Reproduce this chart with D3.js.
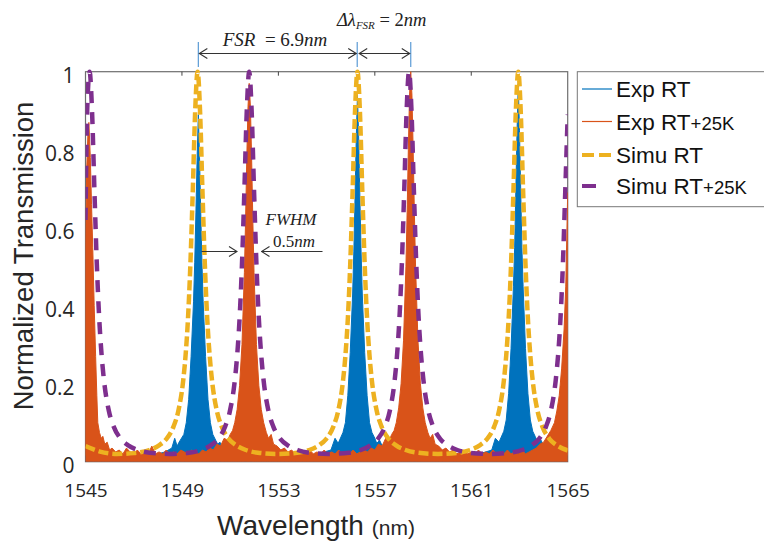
<!DOCTYPE html>
<html>
<head>
<meta charset="utf-8">
<script src="https://cdn.jsdelivr.net/npm/d3@7"></script>
<style>
  body { margin: 0; background: #fff; }
  svg { display: block; }
</style>
</head>
<body>
<div class="chart"></div>
<script>
// tick values
var xTicks = [1545, 1549, 1553, 1557, 1561, 1565];
var yTicks = [0, 0.2, 0.4, 0.6, 0.8, 1];

var seriesNames = ["Exp RT", "Exp RT+25K", "Simu RT", "Simu RT+25K"];

// measured spectrum, room temperature  [wavelength nm, transmission]
var expRT = [
  [1545.00,0.015],[1545.60,0.020],[1546.20,0.015],[1546.80,0.020],[1547.40,0.015],[1548.00,0.020],[1548.30,0.025],
  [1548.58,0.035],[1548.70,0.060],[1548.80,0.040],[1548.88,0.050],[1549.08,0.070],[1549.18,0.100],[1549.28,0.160],
  [1549.38,0.270],[1549.48,0.410],[1549.53,0.510],[1549.58,0.640],[1549.63,0.780],[1549.68,0.890],[1549.73,0.780],
  [1549.78,0.640],[1549.83,0.510],[1549.88,0.410],[1549.98,0.270],[1550.08,0.160],[1550.18,0.100],[1550.28,0.070],
  [1550.40,0.055],[1550.48,0.045],[1550.58,0.050],[1550.68,0.030],
  [1551.00,0.020],[1551.60,0.015],[1552.20,0.020],[1552.80,0.015],[1553.40,0.020],[1554.00,0.015],[1554.60,0.020],[1554.90,0.025],
  [1555.18,0.030],[1555.35,0.060],[1555.48,0.047],[1555.68,0.075],[1555.78,0.100],[1555.88,0.170],[1555.98,0.280],
  [1556.08,0.430],[1556.13,0.540],[1556.18,0.680],[1556.23,0.830],[1556.28,0.940],[1556.33,0.830],[1556.38,0.680],
  [1556.43,0.540],[1556.48,0.430],[1556.58,0.280],[1556.68,0.170],[1556.78,0.100],[1556.88,0.075],[1557.00,0.060],
  [1557.08,0.047],[1557.20,0.055],[1557.38,0.030],
  [1557.70,0.020],[1558.30,0.015],[1558.90,0.020],[1559.50,0.015],[1560.10,0.020],[1560.70,0.015],[1561.30,0.020],[1561.60,0.025],
  [1561.85,0.030],[1562.00,0.060],[1562.15,0.050],[1562.35,0.078],[1562.45,0.107],[1562.55,0.175],[1562.65,0.290],
  [1562.75,0.450],[1562.80,0.550],[1562.85,0.700],[1562.90,0.850],[1562.95,0.970],[1563.00,0.850],[1563.05,0.700],
  [1563.10,0.550],[1563.15,0.450],[1563.25,0.290],[1563.35,0.175],[1563.45,0.107],[1563.55,0.078],[1563.65,0.065],
  [1563.75,0.050],[1563.90,0.055],[1564.05,0.030],
  [1564.40,0.020],[1565.00,0.015]
];

// measured spectrum, RT + 25 K
var expRT25K = [
  [1545.00,0.560],[1545.05,0.750],[1545.10,0.840],[1545.14,0.870],[1545.20,0.780],[1545.25,0.660],[1545.30,0.550],
  [1545.36,0.400],[1545.42,0.270],[1545.47,0.170],[1545.51,0.100],[1545.58,0.075],[1545.65,0.060],[1545.72,0.065],
  [1545.80,0.045],[1545.90,0.050],[1546.00,0.030],[1546.10,0.035],[1546.25,0.025],[1546.40,0.030],[1546.55,0.020],
  [1546.70,0.035],[1546.85,0.025],[1547.00,0.020],[1547.15,0.030],[1547.30,0.020],[1547.45,0.025],[1547.60,0.020],
  [1547.75,0.040],[1547.90,0.020],[1548.05,0.025],[1548.20,0.020],[1548.35,0.030],[1548.50,0.020],[1548.65,0.025],
  [1548.80,0.020],[1548.95,0.030],[1549.10,0.025],[1549.25,0.020],[1549.40,0.030],[1549.55,0.025],[1549.70,0.020],
  [1549.85,0.030],[1550.00,0.025],[1550.15,0.035],[1550.30,0.030],[1550.45,0.045],[1550.60,0.040],[1550.75,0.060],
  [1550.90,0.055],[1551.00,0.070],[1551.10,0.080],[1551.19,0.100],[1551.29,0.134],[1551.39,0.195],[1551.49,0.300],
  [1551.59,0.485],[1551.64,0.620],[1551.69,0.780],[1551.74,0.910],[1551.79,0.970],[1551.84,0.910],[1551.89,0.780],
  [1551.94,0.620],[1551.99,0.485],[1552.09,0.300],[1552.19,0.195],[1552.29,0.134],[1552.39,0.100],[1552.50,0.075],
  [1552.59,0.060],[1552.70,0.070],[1552.80,0.045],[1552.95,0.040],[1553.10,0.030],[1553.25,0.035],[1553.40,0.025],
  [1553.55,0.030],[1553.70,0.020],[1553.85,0.030],[1554.00,0.025],[1554.15,0.020],[1554.30,0.030],[1554.45,0.020],
  [1554.60,0.025],[1554.75,0.020],[1554.90,0.030],[1555.05,0.020],[1555.20,0.025],[1555.35,0.020],[1555.50,0.030],
  [1555.65,0.020],[1555.80,0.025],[1555.95,0.020],[1556.10,0.030],[1556.25,0.020],[1556.40,0.025],[1556.55,0.030],
  [1556.70,0.025],[1556.85,0.035],[1557.00,0.030],[1557.15,0.045],[1557.30,0.040],[1557.45,0.060],[1557.60,0.055],
  [1557.70,0.070],[1557.80,0.080],[1557.89,0.100],[1557.99,0.138],[1558.09,0.200],[1558.19,0.310],[1558.29,0.500],
  [1558.34,0.640],[1558.39,0.800],[1558.44,0.940],[1558.49,1.000],[1558.54,0.940],[1558.59,0.800],[1558.64,0.640],
  [1558.69,0.500],[1558.79,0.310],[1558.89,0.200],[1558.99,0.138],[1559.09,0.100],[1559.20,0.075],[1559.29,0.060],
  [1559.40,0.070],[1559.50,0.045],[1559.65,0.040],[1559.80,0.030],[1559.95,0.035],[1560.10,0.025],[1560.25,0.030],
  [1560.40,0.020],[1560.55,0.025],[1560.70,0.030],[1560.85,0.020],[1561.00,0.025],[1561.15,0.020],[1561.30,0.030],
  [1561.45,0.020],[1561.60,0.025],[1561.75,0.020],[1561.90,0.030],[1562.05,0.020],[1562.20,0.025],[1562.35,0.020],
  [1562.50,0.030],[1562.65,0.020],[1562.80,0.025],[1562.95,0.020],[1563.10,0.030],[1563.25,0.020],[1563.40,0.025],
  [1563.55,0.030],[1563.70,0.035],[1563.85,0.045],[1564.00,0.050],[1564.15,0.065],[1564.30,0.080],[1564.45,0.100],
  [1564.55,0.130],[1564.65,0.170],[1564.75,0.240],[1564.85,0.340],[1564.92,0.450],[1565.00,0.690]
];

// simulation, room temperature
var simuRT = [
  [1545.00,0.040],[1545.60,0.026],[1546.30,0.020],[1547.00,0.022],[1547.65,0.030],[1548.05,0.042],[1548.35,0.058],
  [1548.65,0.090],[1548.85,0.130],[1549.05,0.207],[1549.15,0.272],[1549.25,0.366],[1549.35,0.506],[1549.45,0.696],
  [1549.55,0.901],[1549.65,1.000],[1549.75,0.901],[1549.85,0.696],[1549.95,0.506],[1550.05,0.366],[1550.15,0.272],
  [1550.25,0.207],[1550.45,0.130],[1550.65,0.090],[1550.95,0.058],[1551.25,0.042],[1551.65,0.030],[1552.15,0.023],
  [1552.97,0.020],[1553.78,0.023],[1554.28,0.030],[1554.68,0.042],[1554.98,0.058],[1555.28,0.090],[1555.48,0.130],
  [1555.68,0.207],[1555.78,0.272],[1555.88,0.366],[1555.98,0.506],[1556.08,0.696],[1556.18,0.901],[1556.28,1.000],
  [1556.38,0.901],[1556.48,0.696],[1556.58,0.506],[1556.68,0.366],[1556.78,0.272],[1556.88,0.207],[1557.08,0.130],
  [1557.28,0.090],[1557.58,0.058],[1557.88,0.042],[1558.28,0.030],[1558.78,0.023],[1559.62,0.020],[1560.45,0.023],
  [1560.95,0.030],[1561.35,0.042],[1561.65,0.058],[1561.95,0.090],[1562.15,0.130],[1562.35,0.207],[1562.45,0.272],
  [1562.55,0.366],[1562.65,0.506],[1562.75,0.696],[1562.85,0.901],[1562.95,1.000],[1563.05,0.901],[1563.15,0.696],
  [1563.25,0.506],[1563.35,0.366],[1563.45,0.272],[1563.55,0.207],[1563.75,0.130],[1563.95,0.090],[1564.25,0.058],
  [1564.55,0.042],[1564.95,0.030],[1565.00,0.029]
];

// simulation, RT + 25 K
var simuRT25K = [
  [1545.00,0.620],[1545.07,0.900],[1545.17,1.000],[1545.27,0.901],[1545.37,0.696],[1545.47,0.506],[1545.57,0.366],
  [1545.67,0.272],[1545.77,0.207],[1545.97,0.130],[1546.17,0.090],[1546.47,0.058],[1546.77,0.042],[1547.17,0.030],
  [1547.67,0.023],[1548.48,0.020],[1549.29,0.023],[1549.79,0.030],[1550.19,0.042],[1550.49,0.058],[1550.79,0.090],
  [1550.99,0.130],[1551.19,0.207],[1551.29,0.272],[1551.39,0.366],[1551.49,0.506],[1551.59,0.696],[1551.69,0.901],
  [1551.79,1.000],[1551.89,0.901],[1551.99,0.696],[1552.09,0.506],[1552.19,0.366],[1552.29,0.272],[1552.39,0.207],
  [1552.59,0.130],[1552.79,0.090],[1553.09,0.058],[1553.39,0.042],[1553.79,0.030],[1554.29,0.023],[1555.10,0.020],
  [1555.92,0.023],[1556.42,0.030],[1556.82,0.042],[1557.12,0.058],[1557.42,0.090],[1557.62,0.130],[1557.82,0.207],
  [1557.92,0.272],[1558.02,0.366],[1558.12,0.506],[1558.22,0.696],[1558.32,0.901],[1558.42,1.000],[1558.52,0.901],
  [1558.62,0.696],[1558.72,0.506],[1558.82,0.366],[1558.92,0.272],[1559.02,0.207],[1559.22,0.130],[1559.42,0.090],
  [1559.72,0.058],[1560.02,0.042],[1560.42,0.030],[1560.92,0.023],[1561.76,0.020],[1562.60,0.023],[1563.10,0.030],
  [1563.50,0.042],[1563.80,0.058],[1564.10,0.090],[1564.30,0.130],[1564.50,0.207],[1564.60,0.272],[1564.70,0.366],
  [1564.80,0.506],[1564.90,0.696],[1565.00,0.890]
];

// peak positions marked by the FSR arrows
var fsrMarks = [1549.68, 1556.27, 1558.49];

var W = 764, H = 543;

var svg = d3.select("div.chart")
            .append("svg")
            .attr("width", W)
            .attr("height", H);

//scales
var x = d3.scaleLinear().domain([1545, 1565]).range([85.5, 567.7]);
var y = d3.scaleLinear().domain([0, 1]).range([461.7, 71.7]);

var colors = ["#0072BD", "#D95319", "#EDB120", "#7E2F8E"];

svg.append("defs").append("clipPath")
   .attr("id", "plotclip")
   .append("rect")
   .attr("x", x(1545)).attr("y", y(1) - 3)
   .attr("width", x(1565) - x(1545))
   .attr("height", y(0) - y(1) + 3);

// chevron arrow heads
svg.select("defs").append("marker")
   .attr("id", "chev")
   .attr("viewBox", "-1 -6 10 12")
   .attr("refX", 8).attr("refY", 0)
   .attr("markerWidth", 10).attr("markerHeight", 12)
   .attr("markerUnits", "userSpaceOnUse")
   .attr("orient", "auto-start-reverse")
   .append("path")
   .attr("d", "M0,-5L8,0L0,5")
   .attr("fill", "none")
   .attr("stroke", "#333")
   .attr("stroke-width", 1.1);

//frame
svg.append("rect")
   .attr("x", x(1545)).attr("y", y(1))
   .attr("width", x(1565) - x(1545))
   .attr("height", y(0) - y(1))
   .attr("fill", "none")
   .attr("stroke", "#6e6e6e")
   .attr("stroke-width", 1.2);

// top inner ticks
svg.selectAll(".ttick")
   .data(xTicks.slice(1, -1))
   .enter()
   .append("line")
   .attr("x1", function(d){ return x(d); })
   .attr("x2", function(d){ return x(d); })
   .attr("y1", y(1)).attr("y2", y(1) + 4)
   .attr("stroke", "#444");

var plot = svg.append("g").attr("clip-path", "url(#plotclip)");

var area = d3.area()
             .x(function(d){ return x(d[0]); })
             .y0(y(0))
             .y1(function(d){ return y(d[1]); });

var line = d3.line()
             .x(function(d){ return x(d[0]); })
             .y(function(d){ return y(d[1]); })
             .curve(d3.curveMonotoneX);

[expRT, expRT25K].forEach(function(data, i){
  plot.append("path")
      .datum(data)
      .attr("d", area)
      .attr("fill", colors[i])
      .attr("stroke", colors[i])
      .attr("stroke-width", 1);
});

plot.append("path")
    .datum(simuRT)
    .attr("d", line)
    .attr("fill", "none")
    .attr("stroke", colors[2])
    .attr("stroke-width", 4.5)
    .attr("stroke-dasharray", "10,4");

plot.append("path")
    .datum(simuRT25K)
    .attr("d", line)
    .attr("fill", "none")
    .attr("stroke", colors[3])
    .attr("stroke-width", 4.5)
    .attr("stroke-dasharray", "12,9");

//axes
var xAxis = svg.append("g")
   .attr("transform", "translate(0," + y(0) + ")")
   .call(d3.axisBottom(x).tickValues(xTicks).tickSize(0).tickPadding(22).tickFormat(d3.format("d")));

var yAxis = svg.append("g")
   .attr("transform", "translate(" + x(1545) + ",0)")
   .call(d3.axisLeft(y).tickValues(yTicks).tickSize(0).tickPadding(11).tickFormat(d3.format("~g")));

[xAxis, yAxis].forEach(function(g){
  g.select(".domain").remove();
  g.selectAll("text")
   .attr("font-family", "'Open Sans', sans-serif")
   .attr("font-size", 19)
   .attr("fill", "#262626");
});
yAxis.selectAll("text").attr("font-size", 21).attr("dy", "0.5em");

svg.append("text")
   .attr("x", 316).attr("y", 535)
   .attr("text-anchor", "middle")
   .attr("font-family", "'Liberation Sans', Arial, sans-serif")
   .attr("font-size", 28)
   .attr("fill", "#262626")
   .text("Wavelength ")
   .append("tspan")
   .attr("font-size", 21)
   .text("(nm)");

svg.append("text")
   .attr("transform", "translate(33,256) rotate(-90)")
   .attr("text-anchor", "middle")
   .attr("font-family", "'Liberation Sans', Arial, sans-serif")
   .attr("font-size", 27.5)
   .attr("fill", "#262626")
   .text("Normalized Transmission");

//legend
var legend = svg.append("g");
legend.append("rect")
   .attr("x", 577.3).attr("y", 71.7)
   .attr("width", 190).attr("height", 135)
   .attr("fill", "#fff")
   .attr("stroke", "#777")
   .attr("stroke-width", 1);

var legY = [89, 121.5, 155, 186];
var legDash = [null, null, "12,5", "14,30"];
var legWidth = [1.2, 1.2, 4, 4];

seriesNames.forEach(function(name, i){
  legend.append("line")
        .attr("x1", 582).attr("x2", 612)
        .attr("y1", legY[i]).attr("y2", legY[i])
        .attr("stroke", colors[i])
        .attr("stroke-width", legWidth[i])
        .attr("stroke-dasharray", legDash[i]);
  var parts = name.split("+");
  var t = legend.append("text")
        .attr("x", 616).attr("y", legY[i] + 8)
        .attr("font-family", "'Liberation Sans', Arial, sans-serif")
        .attr("font-size", 22.5)
        .attr("fill", "#111")
        .text(parts[0]);
  if(parts.length > 1){
    t.append("tspan").attr("font-size", 18.5).text("+" + parts[1]);
  }
});

//annotations
var ann = svg.append("g")
             .attr("font-family", "'Liberation Serif', 'DejaVu Serif', serif")
             .attr("fill", "#222");

ann.selectAll(".mark")
   .data(fsrMarks)
   .enter()
   .append("line")
   .attr("x1", function(d){ return x(d); })
   .attr("x2", function(d){ return x(d); })
   .attr("y1", 42).attr("y2", 67)
   .attr("stroke", "#5B9BD5")
   .attr("stroke-width", 1.2);

ann.append("line")
   .attr("x1", x(fsrMarks[0]) + 1).attr("x2", x(fsrMarks[1]) - 1)
   .attr("y1", 53.5).attr("y2", 53.5)
   .attr("stroke", "#333").attr("stroke-width", 1.1)
   .attr("marker-start", "url(#chev)")
   .attr("marker-end", "url(#chev)");

ann.append("line")
   .attr("x1", x(fsrMarks[1]) + 2).attr("x2", x(fsrMarks[2]) - 1)
   .attr("y1", 53.5).attr("y2", 53.5)
   .attr("stroke", "#333").attr("stroke-width", 1.1)
   .attr("marker-start", "url(#chev)")
   .attr("marker-end", "url(#chev)");

var fsrText = ann.append("text")
   .attr("x", 275).attr("y", 46)
   .attr("text-anchor", "middle")
   .attr("font-size", 19);
fsrText.append("tspan").attr("font-style", "italic").text("FSR");
fsrText.append("tspan").text(" \u00a0= 6.9");
fsrText.append("tspan").attr("font-style", "italic").text("nm");

var dText = ann.append("text")
   .attr("x", 337).attr("y", 26)
   .attr("font-size", 18.5);
dText.append("tspan").attr("font-style", "italic").text("\u0394\u03bb");
dText.append("tspan").attr("font-style", "italic").attr("font-size", 11).attr("dy", 3).text("FSR");
dText.append("tspan").attr("dy", -3).text(" = 2");
dText.append("tspan").attr("font-style", "italic").text("nm");

// FWHM
ann.append("line")
   .attr("x1", 201.5).attr("x2", 237)
   .attr("y1", 251.5).attr("y2", 251.5)
   .attr("stroke", "#333").attr("stroke-width", 1.1)
   .attr("marker-end", "url(#chev)");

ann.append("line")
   .attr("x1", 322.5).attr("x2", 261.5)
   .attr("y1", 251.5).attr("y2", 251.5)
   .attr("stroke", "#333").attr("stroke-width", 1.1)
   .attr("marker-end", "url(#chev)");

ann.append("text")
   .attr("x", 291).attr("y", 225)
   .attr("text-anchor", "middle")
   .attr("font-size", 17)
   .attr("font-style", "italic")
   .text("FWHM");

var hwText = ann.append("text")
   .attr("x", 294).attr("y", 247)
   .attr("text-anchor", "middle")
   .attr("font-size", 17);
hwText.append("tspan").text("0.5");
hwText.append("tspan").attr("font-style", "italic").text("nm");
</script>
</body>
</html>
